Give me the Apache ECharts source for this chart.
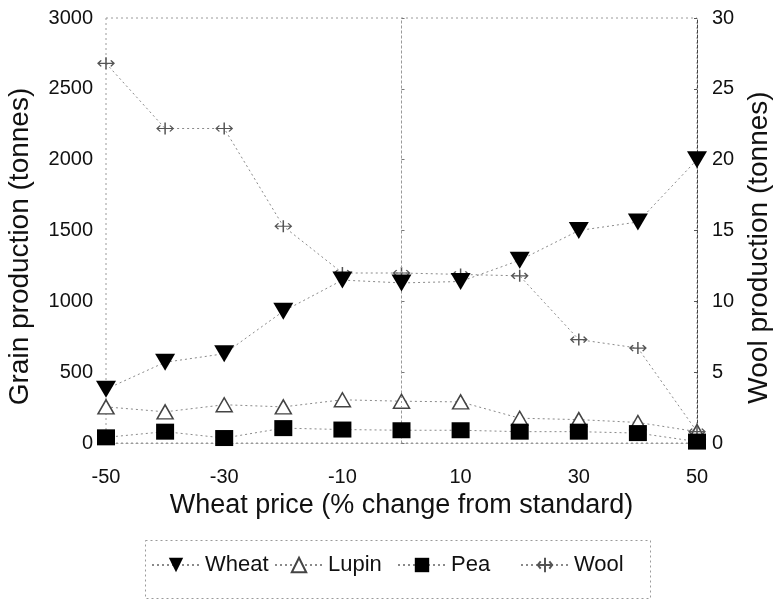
<!DOCTYPE html>
<html>
<head>
<meta charset="utf-8">
<script src="https://cdn.jsdelivr.net/npm/echarts@6/dist/echarts.min.js"></script>
<style>html,body{margin:0;padding:0;background:#fff;}#c{width:779px;height:600px;}</style>
</head>
<body>
<div id="c"></div>
<script>
const prices = [-50, -40, -30, -20, -10, 0, 10, 20, 30, 40, 50];
const wheat = [380, 570, 630, 930, 1150, 1130, 1140, 1290, 1500, 1560, 2000];
const lupin = [255, 220, 270, 255, 305, 295, 290, 175, 165, 145, 80];
const pea = [40, 80, 35, 105, 95, 90, 90, 80, 80, 70, 10];
const wool = [26.8, 22.2, 22.2, 15.3, 12.0, 12.0, 11.9, 11.8, 7.3, 6.7, 0.8];
const xTicks = [-50, -30, -10, 10, 30, 50];
const seriesNames = ['Wheat', 'Lupin', 'Pea', 'Wool'];

const font = 'Liberation Sans, Arial, sans-serif';
const pair = arr => prices.map((p, i) => [p, arr[i]]);
const lineStyle = {color: '#8a8a8a', width: 1, type: [2, 3]};

const legends = seriesNames.map((n, i) => ({
  data: [n], left: 151 + i * 123, top: 554, padding: 0,
  itemWidth: 48, itemHeight: 18,
  textStyle: {fontSize: 22, color: '#111', fontFamily: font}
}));

const chart = echarts.init(document.getElementById('c'));
chart.setOption({
  animation: false,
  backgroundColor: '#fff',
  textStyle: {fontFamily: font},
  grid: {left: 106, right: 82, top: 18, bottom: 157, outerBoundsMode: 'none', containLabel: false,
    show: true, borderColor: '#9a9a9a', borderWidth: 1, borderType: [2, 3]},
  legend: legends,
  graphic: [{
    type: 'rect', left: 143, top: 538, silent: true,
    shape: {width: 505, height: 58},
    style: {fill: 'none', stroke: '#9a9a9a', lineWidth: 1, lineDash: [2, 3]}
  }],
  xAxis: {
    type: 'value', min: -50, max: 50, interval: 10,
    name: 'Wheat price (% change from standard)', nameLocation: 'middle', nameGap: 46,
    nameTextStyle: {fontSize: 27, color: '#111', fontFamily: font},
    axisLine: {show: true, lineStyle: {color: '#9a9a9a', type: [2, 3]}},
    axisTick: {show: false},
    splitLine: {show: false},
    axisLabel: {fontSize: 20, color: '#111', margin: 24,
      formatter: v => xTicks.indexOf(v) >= 0 ? String(v) : ''}
  },
  yAxis: [{
    type: 'value', min: 0, max: 3000, interval: 500,
    name: 'Grain production (tonnes)', nameLocation: 'middle', nameGap: 72,
    nameTextStyle: {fontSize: 28, color: '#111', fontFamily: font, padding: [0, 32, 0, 0]},
    axisLine: {show: true, lineStyle: {color: '#777', type: [2, 3]}},
    axisTick: {show: true, inside: true, length: 3, lineStyle: {color: '#777'}},
    splitLine: {show: false},
    axisLabel: {fontSize: 20, color: '#111', margin: 13, formatter: v => String(v)}
  }, {
    type: 'value', min: 0, max: 30, interval: 5, position: 'right',
    name: 'Wool production (tonnes)', nameLocation: 'middle', nameGap: 47, nameRotate: 90,
    nameTextStyle: {fontSize: 28, color: '#111', fontFamily: font, padding: [0, 34, 0, 0]},
    axisLine: {show: true, lineStyle: {color: '#444', type: [3, 2]}},
    axisTick: {show: true, inside: true, length: 3, lineStyle: {color: '#555'}},
    splitLine: {show: false},
    axisLabel: {fontSize: 20, color: '#111', margin: 15, formatter: v => String(v)}
  }],
  series: [{
    name: 'Wheat', type: 'line', data: pair(wheat),
    symbol: 'path://M0,0 L10,0 L5,8.5 Z', symbolSize: [20, 17], z: 5,
    itemStyle: {color: '#000'}, lineStyle: lineStyle,
    markLine: {silent: true, symbol: 'none', label: {show: false},
      lineStyle: {color: '#9a9a9a', width: 1, type: [2, 3]}, data: [{xAxis: 0}]}
  }, {
    name: 'Lupin', type: 'line', data: pair(lupin),
    symbol: 'triangle', symbolSize: [16, 14], z: 4,
    itemStyle: {color: '#fff', borderColor: '#444', borderWidth: 1.5}, lineStyle: lineStyle
  }, {
    name: 'Pea', type: 'line', data: pair(pea),
    symbol: 'rect', symbolSize: [18, 16], z: 5,
    itemStyle: {color: '#000'}, lineStyle: lineStyle
  }, {
    name: 'Wool', type: 'line', yAxisIndex: 1, data: pair(wool),
    symbol: 'path://M0,5 L10,5 M5,1 L5,9 M2,3 L0,5 L2,7 M8,3 L10,5 L8,7', symbolSize: [16, 12], z: 4,
    itemStyle: {color: 'none', borderColor: '#555', borderWidth: 1.3}, lineStyle: lineStyle
  }]
});
</script>
</body>
</html>
